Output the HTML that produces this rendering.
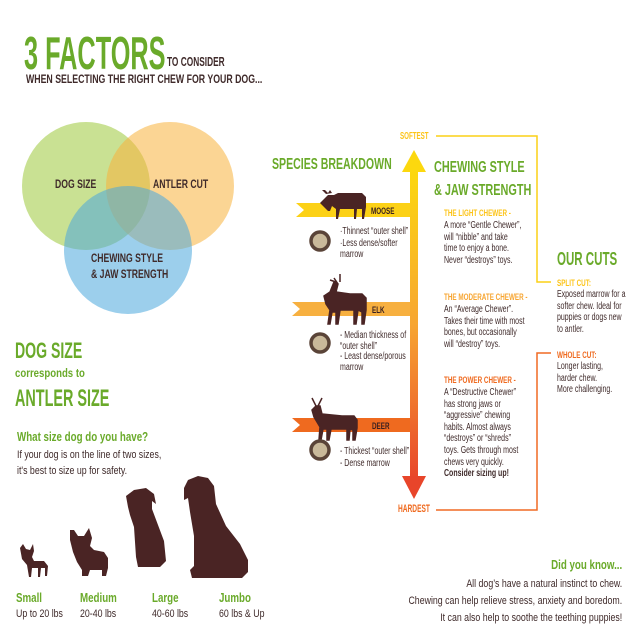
<!DOCTYPE html>
<html><head><meta charset="utf-8"><style>
body{margin:0;background:#fff;}
#c{position:relative;width:640px;height:640px;overflow:hidden;font-family:"Liberation Sans",sans-serif;color:#3f2a2a;}
.t{position:absolute;white-space:nowrap;transform-origin:0 0;transform:scaleX(var(--s,0.72));}
.g{color:#6aaa2a;font-weight:bold;}
.sm{font-size:10px;line-height:11.6px;--s:0.7;}
.hd{font-size:9px;font-weight:bold;--s:0.7;}
</style></head><body><div id="c">
<svg width="640" height="640" style="position:absolute;left:0;top:0">
<defs><linearGradient id="ar" x1="0" y1="0" x2="0" y2="1"><stop offset="0" stop-color="#fcd80e"/><stop offset="0.5" stop-color="#f7a531"/><stop offset="1" stop-color="#e8452a"/></linearGradient></defs>
<circle cx="86" cy="186" r="64" fill="#9cc83a" fill-opacity="0.55"/>
<circle cx="170" cy="186" r="64" fill="#f8b33d" fill-opacity="0.55"/>
<circle cx="128" cy="250" r="64" fill="#4aa8dc" fill-opacity="0.55"/>
<rect x="410" y="170" width="8" height="310" fill="url(#ar)"/>
<polygon points="414,150 402,172 426,172" fill="#fcd80e"/>
<polygon points="414,499 402,476 426,476" fill="#e8452a"/>
<polyline points="436,136 537,136 537,282 551,282" fill="none" stroke="#fcd116" stroke-width="1.5"/>
<polyline points="436,510 537,510 537,353 551,353" fill="none" stroke="#f06a24" stroke-width="1.5"/>
<polygon points="296,203 410,203 410,217 296,217 304,210" fill="#fcd116"/>
<polygon points="292,302 410,302 410,316 292,316 300,309" fill="#f7b040"/>
<polygon points="292,418 410,418 410,432 292,432 300,425" fill="#ef6a1f"/>
<g fill="#4a2424">
<path d="M320 203 l8-8 l6 0 l4-2 l24 0 l4 4 l0 10 l-2 12 l-2 0 l0-10 l-5 0 l-1 10 l-2 0 l0-10 l-14 0 l-2 10 l-2 0 l0-10 l-4-3 l-2 5 l-2 0 z M326 194 l-4-4 l3 0 l3 3 l2-3 l2 3 z"/>
<path d="M324 296 l6-4 l4-10 l4 2 l-2 8 l14 2 l12 0 l4 4 l0 12 l-2 14 l-2 0 l0-12 l-4-2 l-2 14 l-2 0 l0-14 l-14 0 l-2 14 l-2 0 l0-12 l-4 0 l-2 12 l-2 0 l2-14 l-4-6 z M338 284 l-4-6 m6 4 l0-8 M336 282 l-6-2" stroke="#4a2424" stroke-width="1.5"/>
<path d="M312 410 l4-4 l4 0 l2 8 l20 2 l12 0 l3 4 l0 8 l-2 12 l-2 0 l0-10 l-3-1 l-1 11 l-2 0 l0-11 l-16 0 l-2 11 l-2 0 l0-11 l-4 0 l-2 11 l-2 0 l1-13 l-6-10 z M316 406 l-4-8 m6 8 l4-8 m-8 4 l-2-4" stroke="#4a2424" stroke-width="1.5"/>
</g>
<g fill="#c9b99a" stroke="#5a4438" stroke-width="3.5">
<circle cx="320" cy="241" r="9"/><circle cx="320" cy="343" r="9"/><circle cx="320" cy="450" r="9"/>
</g>
<g fill="#4a2424">
<path d="M20 548 l3-4 l3 5 l4 1 l3-6 l1 7 l-2 6 l2 4 l10 0 l4 5 l-1 10 l-2 0 l0-8 l-4 0 l-1 9 l-2 0 l0-9 l-6 0 l-1 9 l-2 0 l-2-12 l-5-6 z"/>
<path d="M70 530 l4-0 l4 6 l6 0 l5-8 l3 10 l-2 8 l4 4 l10 2 l4 6 l0 10 l-2 8 l-4 0 l0-6 l-12 0 l-2 6 l-6 0 l0-6 l-5-8 l-4-10 l-3-12 z"/>
<path d="M126 496 l8-6 l12-2 l8 6 l2 10 l-4-3 l0 8 l6 16 l6 16 l2 20 l-6 6 l-22 0 l-2-10 l-2-30 l-4-12 l-2-8 z"/>
<path d="M184 488 l4-8 l10-4 l10 2 l6 8 l2 18 l10 22 l14 18 l8 16 l0 12 l-6 6 l-50 0 l-2-8 l4-4 l0-30 l-4-24 l-2-14 l-4 2 z"/>
</g>
</svg>
<div class="t g" style="left:24px;top:26px;font-size:46px;--s:0.55">3 FACTORS</div>
<div class="t" style="left:167px;top:54px;font-size:13px;font-weight:bold;--s:0.64">TO CONSIDER</div>
<div class="t" style="left:26px;top:72px;font-size:12px;font-weight:bold;--s:0.73">WHEN SELECTING THE RIGHT CHEW FOR YOUR DOG...</div>
<div class="t" style="left:55px;top:177px;font-size:12px;font-weight:bold">DOG SIZE</div>
<div class="t" style="left:153px;top:177px;font-size:12px;font-weight:bold">ANTLER CUT</div>
<div class="t" style="left:91px;top:250px;font-size:12px;font-weight:bold;line-height:16px">CHEWING STYLE<br>&amp; JAW STRENGTH</div>
<div class="t g" style="left:272px;top:156px;font-size:16px;--s:0.66">SPECIES BREAKDOWN</div>
<div class="t g" style="left:434px;top:156px;font-size:16px;line-height:23px;--s:0.68">CHEWING STYLE<br>&amp; JAW STRENGTH</div>
<div class="t" style="left:400px;top:131px;font-size:10px;font-weight:bold;color:#fcc419;--s:0.62">SOFTEST</div>
<div class="t" style="left:398px;top:503px;font-size:11px;font-weight:bold;color:#ef6a1f;--s:0.6">HARDEST</div>
<div class="t hd" style="left:371px;top:206px;color:#3a2020">MOOSE</div>
<div class="t hd" style="left:372px;top:305px;color:#3a2020">ELK</div>
<div class="t hd" style="left:372px;top:421px;color:#3a2020">DEER</div>
<div class="t sm" style="left:340px;top:226px">·Thinnest “outer shell”<br>·Less dense/softer<br>marrow</div>
<div class="t sm" style="left:340px;top:331px;line-height:10.5px">- Median thickness of<br>“outer shell”<br>- Least dense/porous<br>marrow</div>
<div class="t sm" style="left:340px;top:446px">- Thickest “outer shell”<br>- Dense marrow</div>
<div class="t hd" style="left:444px;top:208px;color:#fcc419">THE LIGHT CHEWER -</div>
<div class="t sm" style="left:444px;top:220px">A more “Gentle Chewer”,<br>will “nibble” and take<br>time to enjoy a bone.<br>Never “destroys” toys.</div>
<div class="t hd" style="left:444px;top:292px;color:#f7a531">THE MODERATE CHEWER -</div>
<div class="t sm" style="left:444px;top:304px">An “Average Chewer”.<br>Takes their time with most<br>bones, but occasionally<br>will “destroy” toys.</div>
<div class="t hd" style="left:444px;top:375px;color:#ef6a1f">THE POWER CHEWER -</div>
<div class="t sm" style="left:444px;top:387px">A “Destructive Chewer”<br>has strong jaws or<br>“aggressive” chewing<br>habits. Almost always<br>“destroys” or “shreds”<br>toys. Gets through most<br>chews very quickly.<br><b>Consider sizing up!</b></div>
<div class="t g" style="left:557px;top:249px;font-size:18px;--s:0.64">OUR CUTS</div>
<div class="t hd" style="left:557px;top:278px;color:#fcc419">SPLIT CUT:</div>
<div class="t sm" style="left:557px;top:289px">Exposed marrow for a<br>softer chew. Ideal for<br>puppies or dogs new<br>to antler.</div>
<div class="t hd" style="left:557px;top:350px;color:#ef6a1f">WHOLE CUT:</div>
<div class="t sm" style="left:557px;top:361px">Longer lasting,<br>harder chew.<br>More challenging.</div>
<div class="t g" style="left:15px;top:338px;font-size:22px;--s:0.64">DOG SIZE</div>
<div class="t g" style="left:15px;top:366px;font-size:12px;--s:0.8">corresponds to</div>
<div class="t g" style="left:15px;top:385px;font-size:24px;--s:0.6">ANTLER SIZE</div>
<div class="t g" style="left:17px;top:430px;font-size:12.5px;--s:0.78">What size dog do you have?</div>
<div class="t" style="left:17px;top:447px;font-size:11px;line-height:16px;--s:0.8">If your dog is on the line of two sizes,<br>it's best to size up for safety.</div>
<div class="t g" style="left:16px;top:590px;font-size:13px;--s:0.75">Small</div>
<div class="t" style="left:16px;top:608px;font-size:11px;--s:0.8">Up to 20 lbs</div>
<div class="t g" style="left:80px;top:590px;font-size:13px;--s:0.75">Medium</div>
<div class="t" style="left:80px;top:608px;font-size:11px;--s:0.8">20-40 lbs</div>
<div class="t g" style="left:152px;top:590px;font-size:13px;--s:0.75">Large</div>
<div class="t" style="left:152px;top:608px;font-size:11px;--s:0.8">40-60 lbs</div>
<div class="t g" style="left:219px;top:590px;font-size:13px;--s:0.75">Jumbo</div>
<div class="t" style="left:219px;top:608px;font-size:11px;--s:0.8">60 lbs &amp; Up</div>
<div class="t g" style="right:18px;top:558px;font-size:12.5px;transform-origin:100% 0;--s:0.78">Did you know...</div>
<div class="t" style="right:18px;top:576px;font-size:11px;line-height:17px;text-align:right;transform-origin:100% 0;--s:0.8">All dog’s have a natural instinct to chew.<br>Chewing can help relieve stress, anxiety and boredom.<br>It can also help to soothe the teething puppies!</div>
</div></body></html>
